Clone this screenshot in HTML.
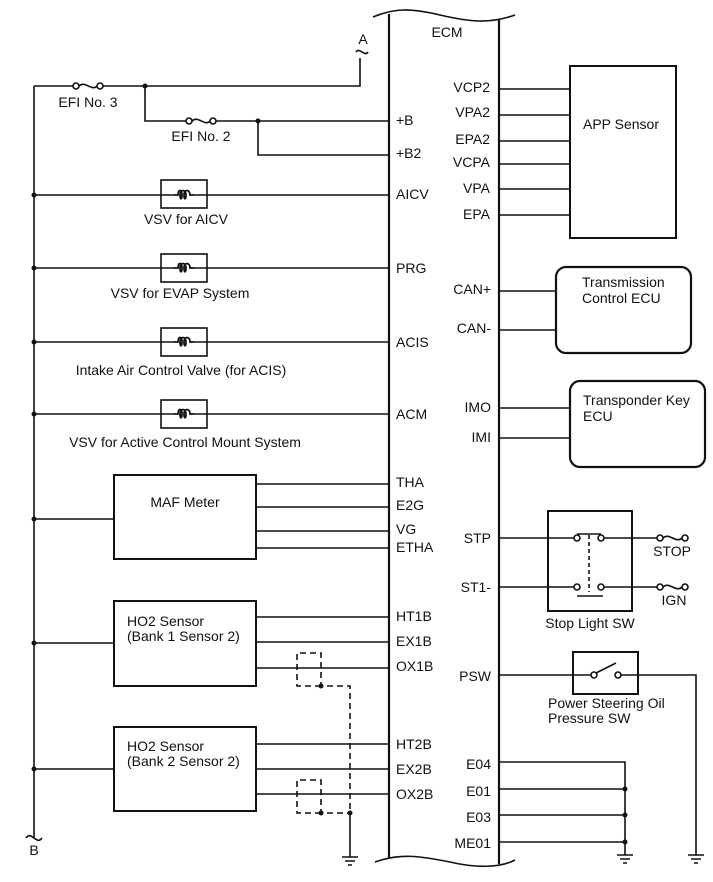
<!DOCTYPE html>
<html><head><meta charset="utf-8"><style>
html,body{margin:0;padding:0;background:#fff;}
svg{display:block;}
text{font-family:"Liberation Sans",Arial,sans-serif;font-size:14px;fill:#111;}
</style></head><body>
<svg width="713" height="882" viewBox="0 0 713 882" xmlns="http://www.w3.org/2000/svg">
<defs>
<path id="coil" d="M-10,0 L-6,0 C-6,-6 -2,-6 -2,0 C-2,5 -4,5 -4,0 C-4,-6 2,-6 2,0 C2,5 0,5 0,0 C0,-6 6,-6 6,0 L10,0" stroke="#111" stroke-width="1.8" fill="none"/>
</defs>
<g stroke="#111" stroke-width="1.6" fill="none">
<path d="M389,14 L389,858" stroke-width="2.2"/>
<path d="M499,20 L499,864" stroke-width="2.2"/>
<path d="M373,17 C395,8 410,8 440,15 C470,22 490,24 515,15"/>
<path d="M375,862 C400,853 420,856 450,862 C475,868 500,868 515,860"/>
<path d="M34,86 L34,838"/>
<path d="M26,838 C29,834 31,836 34,838 C37,840 39,842 42,838"/>
<path d="M34,86 L73,86"/><path d="M103,86 L360,86 L360,58"/>
<circle cx="76" cy="86" r="3" fill="#fff"/><circle cx="100" cy="86" r="3" fill="#fff"/>
<path d="M79,86 C85,80 92,92 97,86"/>
<path d="M356,52 C358,49 360,51 362,52 C364,53 366,55 368,52"/>
<path d="M145,86 L145,121 L186,121"/><path d="M216,121 L389,121"/>
<circle cx="189" cy="121" r="3" fill="#fff"/><circle cx="213" cy="121" r="3" fill="#fff"/>
<path d="M192,121 C198,115 205,127 210,121"/>
<path d="M258,121 L258,155 L389,155"/>
<path d="M34,195 L174,195 M194,195 L389,195"/><rect x="161" y="180" width="46" height="28"/>
<path d="M34,268 L174,268 M194,268 L389,268"/><rect x="161" y="254" width="46" height="28"/>
<path d="M34,342 L174,342 M194,342 L389,342"/><rect x="161" y="328" width="46" height="28"/>
<path d="M34,414 L174,414 M194,414 L389,414"/><rect x="161" y="400" width="46" height="28"/>
<rect x="114" y="475" width="142" height="84" stroke-width="2"/>
<path d="M34,519 L114,519"/>
<path d="M256,484 L389,484 M256,507 L389,507 M256,531 L389,531 M256,548 L389,548"/>
<rect x="114" y="601" width="142" height="85" stroke-width="2"/>
<path d="M34,643 L114,643"/>
<path d="M256,617 L389,617 M256,642 L389,642 M256,668 L389,668"/>
<rect x="114" y="727" width="142" height="84" stroke-width="2"/>
<path d="M34,769 L114,769"/>
<path d="M256,744 L389,744 M256,769 L389,769 M256,794 L389,794"/>
<g stroke-dasharray="6,4">
<path d="M321,686 L297,686 L297,653 L321,653 L321,686 L350,686 L350,813"/>
<path d="M321,813 L297,813 L297,780 L321,780 L321,813 L350,813"/>
</g>
<path d="M350,813 L350,857"/>
<path d="M342,857 L358,857 M345,861 L355,861 M348,865 L352,865"/>
<rect x="570" y="66" width="106" height="172" stroke-width="2"/>
<path d="M499,89 L570,89 M499,115 L570,115 M499,141 L570,141 M499,164 L570,164 M499,189 L570,189 M499,215 L570,215"/>
<rect x="556" y="267" width="135" height="86" rx="10" stroke-width="2.2"/>
<path d="M499,291 L556,291 M499,330 L556,330"/>
<rect x="570" y="381" width="135" height="86" rx="10" stroke-width="2.2"/>
<path d="M499,408 L570,408 M499,438 L570,438"/>
<rect x="548" y="511" width="84" height="100" stroke-width="2"/>
<path d="M499,538 L574,538 M602,538 L657,538 M499,587 L574,587 M602,587 L657,587"/>
<circle cx="577" cy="538" r="3" fill="#fff"/><circle cx="601" cy="538" r="3" fill="#fff"/>
<path d="M577,534 L601,534"/>
<path d="M589,535 L589,592" stroke-dasharray="4,3"/>
<circle cx="577" cy="587" r="3" fill="#fff"/><circle cx="601" cy="587" r="3" fill="#fff"/>
<path d="M577,596 L603,596"/>
<circle cx="660" cy="538" r="3" fill="#fff"/><circle cx="685" cy="538" r="3" fill="#fff"/>
<path d="M663,538 C669,532 676,544 682,538"/>
<circle cx="660" cy="587" r="3" fill="#fff"/><circle cx="685" cy="587" r="3" fill="#fff"/>
<path d="M663,587 C669,581 676,593 682,587"/>
<rect x="573" y="652" width="65" height="42" stroke-width="2"/>
<path d="M499,675 L591,675 M621,675 L696,675 L696,855"/>
<circle cx="594" cy="675" r="3" fill="#fff"/><circle cx="618" cy="675" r="3" fill="#fff"/>
<path d="M596,673 L616,663"/>
<path d="M688,855 L704,855 M691,859 L701,859 M694,863 L698,863"/>
<path d="M499,762 L625,762 L625,855 M499,789 L625,789 M499,815 L625,815 M499,842 L625,842"/>
<path d="M617,855 L633,855 M620,859 L630,859 M623,863 L627,863"/>
</g>
<use href="#coil" x="184" y="195"/><use href="#coil" x="184" y="268"/>
<use href="#coil" x="184" y="342"/><use href="#coil" x="184" y="414"/>
<g fill="#111">
<circle cx="145" cy="86" r="2.5"/><circle cx="258" cy="121" r="2.5"/>
<circle cx="34" cy="195" r="2.5"/><circle cx="34" cy="268" r="2.5"/><circle cx="34" cy="342" r="2.5"/><circle cx="34" cy="414" r="2.5"/>
<circle cx="34" cy="519" r="2.5"/><circle cx="34" cy="643" r="2.5"/><circle cx="34" cy="769" r="2.5"/>
<circle cx="321" cy="686" r="2.5"/><circle cx="321" cy="813" r="2.5"/><circle cx="350" cy="813" r="2.5"/>
<circle cx="625" cy="789" r="2.5"/><circle cx="625" cy="815" r="2.5"/><circle cx="625" cy="842" r="2.5"/>
</g>
<text x="363" y="44" text-anchor="middle">A</text>
<text x="34" y="855" text-anchor="middle">B</text>
<text x="447" y="37" text-anchor="middle">ECM</text>
<text x="88" y="107" text-anchor="middle">EFI No. 3</text>
<text x="201" y="141" text-anchor="middle">EFI No. 2</text>
<text x="186" y="224" text-anchor="middle">VSV for AICV</text>
<text x="180" y="298" text-anchor="middle">VSV for EVAP System</text>
<text x="181" y="375" text-anchor="middle">Intake Air Control Valve (for ACIS)</text>
<text x="185" y="447" text-anchor="middle">VSV for Active Control Mount System</text>
<text x="185" y="507" text-anchor="middle">MAF Meter</text>
<text x="127" y="626">HO2 Sensor</text><text x="127" y="641">(Bank 1 Sensor 2)</text>
<text x="127" y="751">HO2 Sensor</text><text x="127" y="766">(Bank 2 Sensor 2)</text>
<g>
<text x="396" y="125">+B</text><text x="396" y="158">+B2</text><text x="396" y="199">AICV</text>
<text x="396" y="273">PRG</text><text x="396" y="347">ACIS</text><text x="396" y="419">ACM</text>
<text x="396" y="487">THA</text><text x="396" y="510">E2G</text><text x="396" y="534">VG</text><text x="396" y="552">ETHA</text>
<text x="396" y="621">HT1B</text><text x="396" y="646">EX1B</text><text x="396" y="671">OX1B</text>
<text x="396" y="749">HT2B</text><text x="396" y="774">EX2B</text><text x="396" y="799">OX2B</text>
</g>
<g text-anchor="end">
<text x="490" y="92">VCP2</text><text x="490" y="117">VPA2</text><text x="490" y="144">EPA2</text>
<text x="490" y="167">VCPA</text><text x="490" y="193">VPA</text><text x="490" y="219">EPA</text>
<text x="491" y="294">CAN+</text><text x="491" y="333">CAN-</text>
<text x="491" y="412">IMO</text><text x="491" y="442">IMI</text>
<text x="491" y="543">STP</text><text x="491" y="592">ST1-</text><text x="491" y="681">PSW</text>
<text x="491" y="769">E04</text><text x="491" y="796">E01</text><text x="491" y="822">E03</text><text x="491" y="848">ME01</text>
</g>
<text x="621" y="129" text-anchor="middle">APP Sensor</text>
<text x="582" y="287">Transmission</text><text x="582" y="303">Control ECU</text>
<text x="583" y="405">Transponder Key</text><text x="583" y="421">ECU</text>
<text x="590" y="628" text-anchor="middle">Stop Light SW</text>
<text x="672" y="556" text-anchor="middle">STOP</text>
<text x="674" y="605" text-anchor="middle">IGN</text>
<text x="548" y="708">Power Steering Oil</text>
<text x="548" y="723">Pressure SW</text>
</svg>
</body></html>
